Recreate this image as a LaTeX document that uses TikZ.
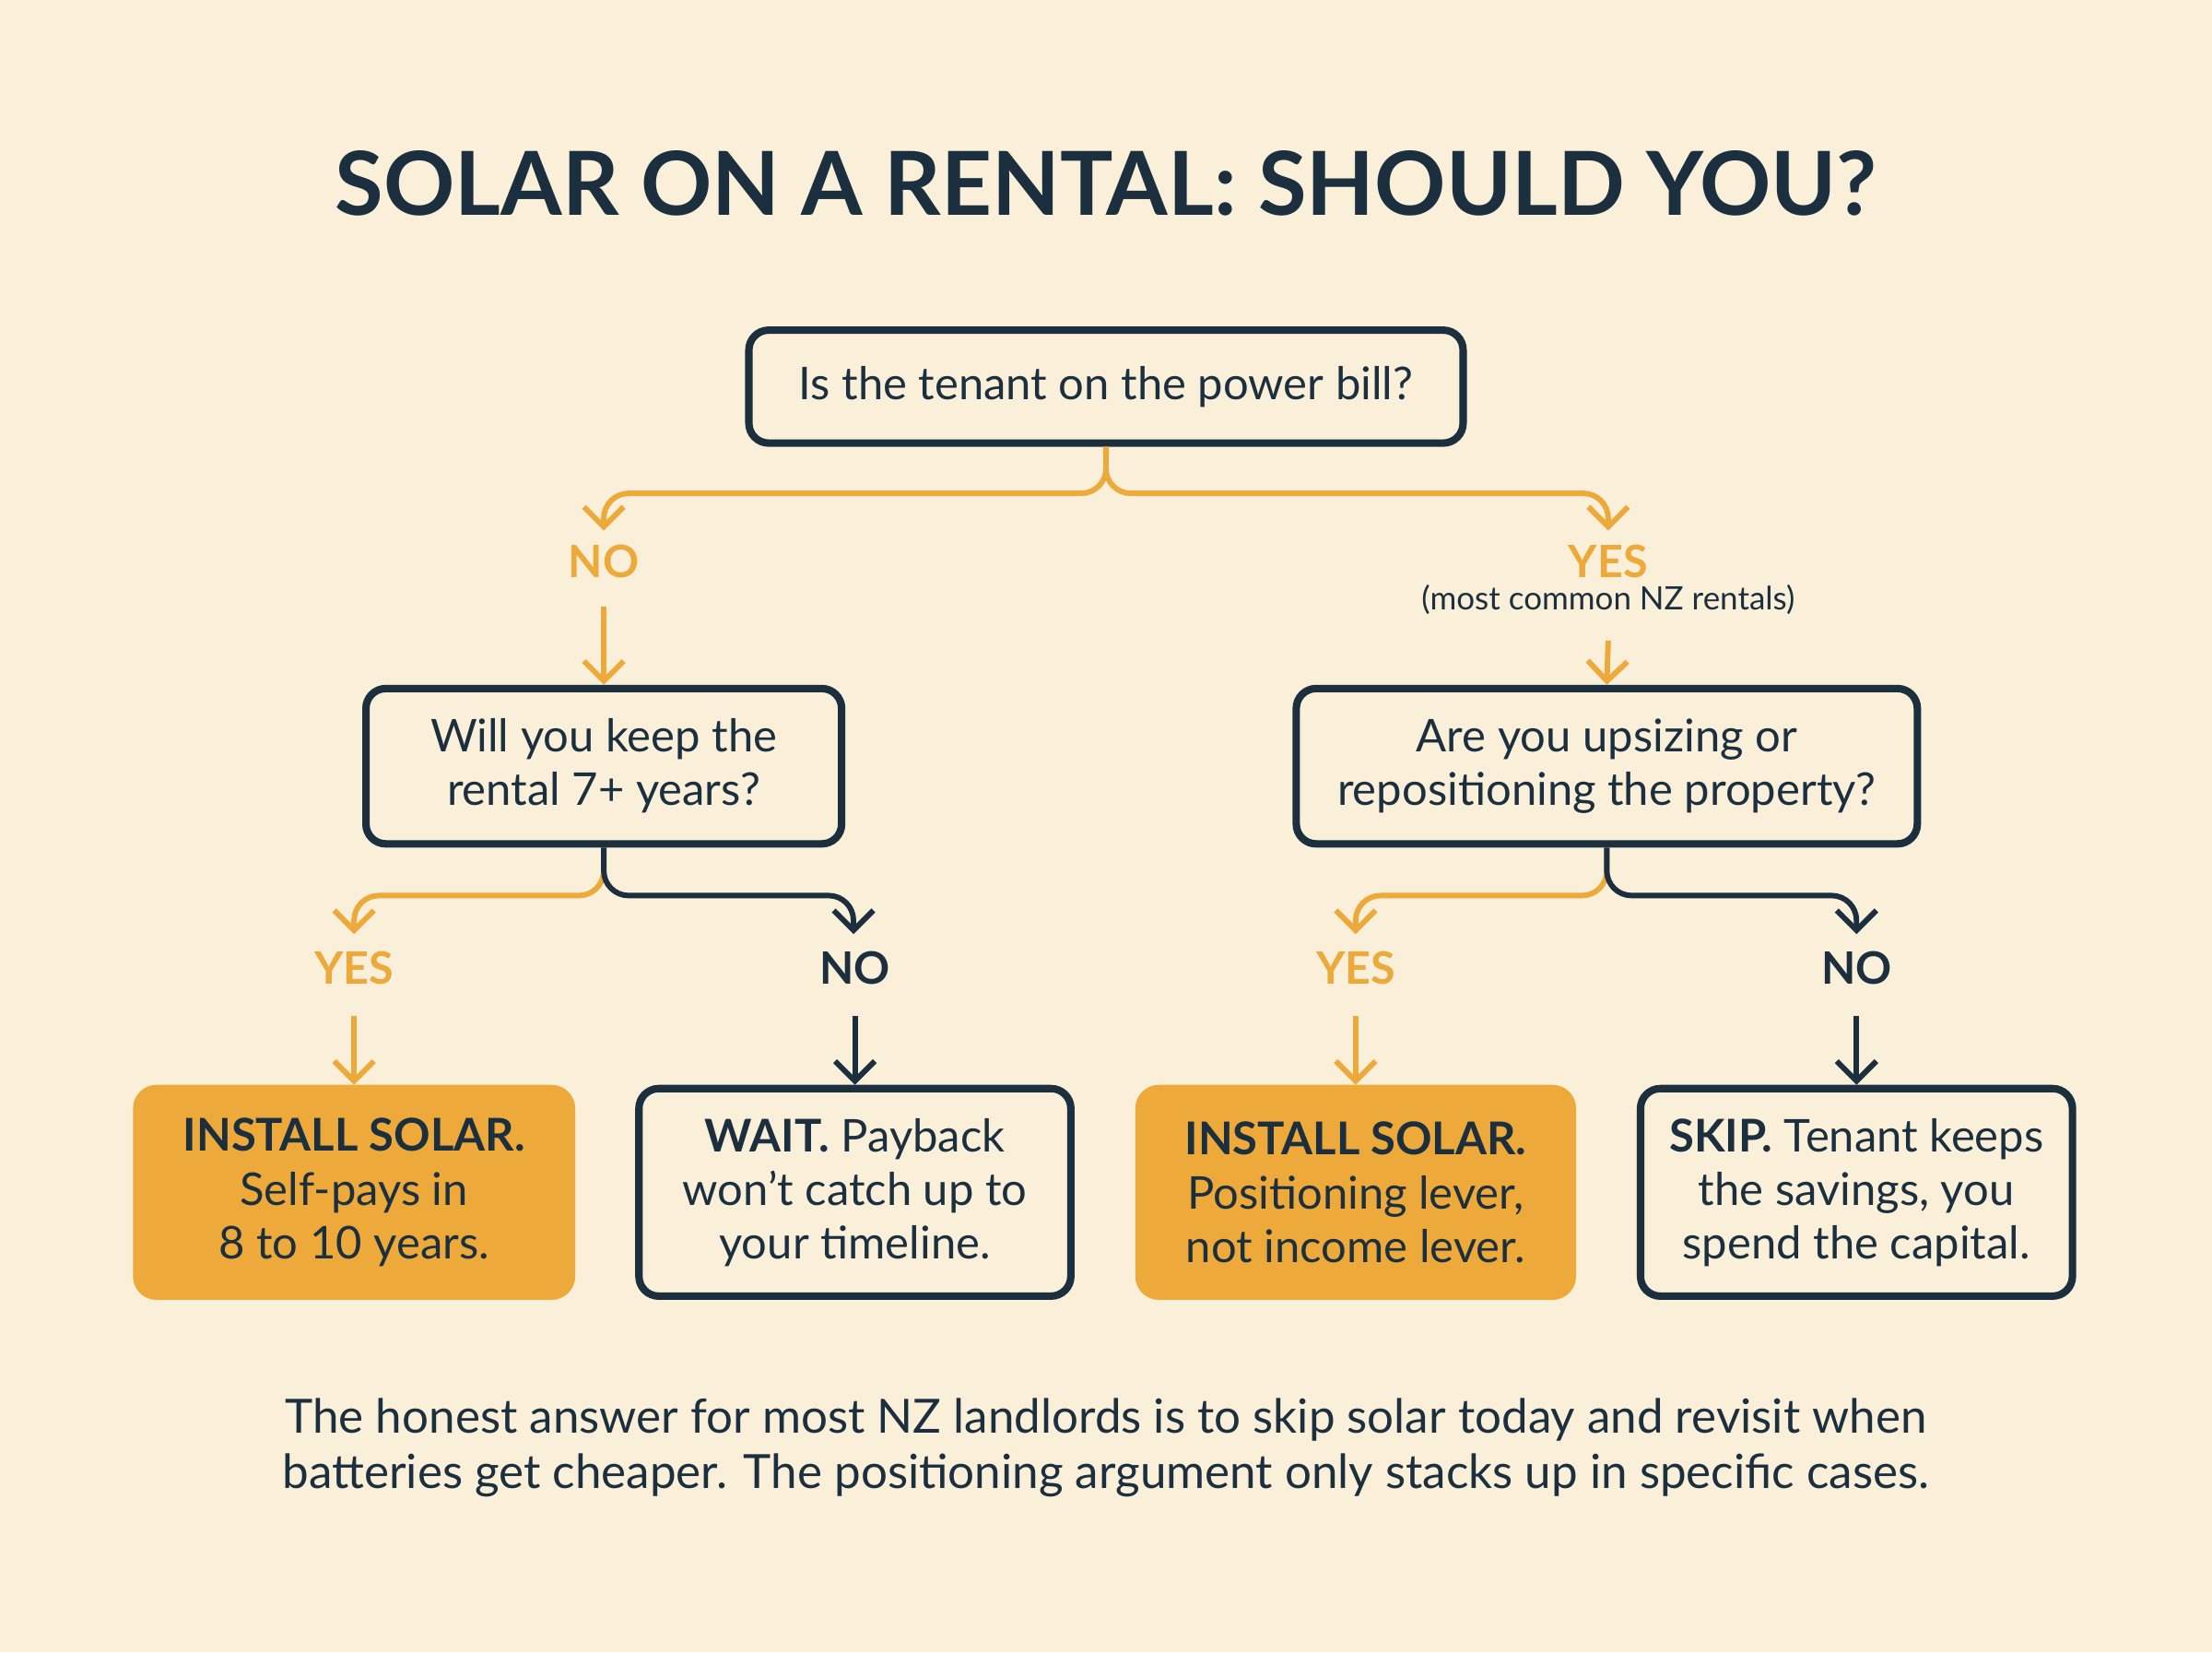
\documentclass[tikz,border=0pt]{standalone}
\usepackage{fontspec}
\setmainfont{Lato}
\usetikzlibrary{positioning,arrows.meta}
\definecolor{navy}{HTML}{1C2F3E}
\definecolor{amber}{HTML}{EDA93A}
\definecolor{cream}{HTML}{FAF0DA}
\tikzset{
	box/.style={draw=navy, line width=1.5pt, rounded corners=4pt, fill=cream, align=center,
		font=\fontsize{9.1}{10.8}\selectfont, text=navy},
	goodbox/.style={box, draw=amber, fill=amber},
	yeslbl/.style={font=\fontsize{9}{10}\selectfont\bfseries, text=amber},
	nolbl/.style={font=\fontsize{9}{10}\selectfont\bfseries, text=navy},
	ylink/.style={draw=amber, line width=1.1pt, -{Straight Barb[length=4pt,width=8pt]}},
	nlink/.style={draw=navy, line width=1.1pt, -{Straight Barb[length=4pt,width=8pt]}},
}
\begin{document}
\begin{tikzpicture}[x=0.01cm,y=-0.01cm]

	% ---------------------
	% Background --- Bounding box
	\fill[cream] (0,0) rectangle (1568,1171);
	\useasboundingbox (0,0) rectangle (1568,1171);

	\node[font=\fontsize{17.8}{20}\selectfont\bfseries, text=navy] (Title) at (784,130) {SOLAR ON A RENTAL: SHOULD YOU?};

	% ---------------------
	% Questions
	\node[box, minimum width=5.06cm, minimum height=0.8cm] (Bill) at (784,274) {Is the tenant on the power bill?};
	\node[box, minimum width=3.37cm, minimum height=1.1cm] (Keep) at (428,543) {Will you keep the\\rental 7+ years?};
	\node[box, minimum width=4.40cm, minimum height=1.1cm] (Upsize) at (1139,543) {Are you upsizing or\\repositioning the property?};

	% ---------------------
	% Answers
	\node[goodbox, minimum width=3.08cm, minimum height=1.47cm] (InstallA) at (251,845) {\textbf{INSTALL SOLAR.}\\Self-pays in\\8 to 10 years.};
	\node[box, minimum width=3.06cm, minimum height=1.47cm] (Wait) at (606,845) {\textbf{WAIT.} Payback\\won't catch up to\\your timeline.};
	\node[goodbox, minimum width=3.07cm, minimum height=1.47cm] (InstallB) at (961,845) {\textbf{INSTALL SOLAR.}\\Positioning lever,\\not income lever.};
	\node[box, minimum width=3.06cm, minimum height=1.47cm] (Skip) at (1316,845) {\textbf{SKIP.} Tenant keeps\\the savings, you\\spend the capital.};

	% ---------------------
	% Branch labels
	\node[yeslbl] (NoA) at (428,398) {NO};
	\node[yeslbl] (YesA) at (1140,398) {YES};
	\node[font=\fontsize{6.5}{7}\selectfont, text=navy] (Common) at (1140,425) {(most common NZ rentals)};
	\node[yeslbl] (YesB) at (251,686) {YES};
	\node[nolbl] (NoB) at (606,686) {NO};
	\node[yeslbl] (YesC) at (961,686) {YES};
	\node[nolbl] (NoC) at (1316,686) {NO};

	\coordinate (TipNoA) at (428,376);
	\coordinate (TipYesA) at (1140,376);
	\coordinate (TipYesB) at (251,662);
	\coordinate (TipNoB) at (605,662);
	\coordinate (TipYesC) at (961,662);
	\coordinate (TipNoC) at (1316,662);

	% ---------------------
	% Connectors
	\draw[ylink, rounded corners=5pt] (Bill.south) -- ++(0,33) -| (TipNoA);
	\draw[ylink, rounded corners=5pt] (Bill.south) -- ++(0,33) -| (TipYesA);
	\draw[ylink, rounded corners=5pt] (Keep.south) -- ++(0,34) -| (TipYesB);
	\draw[nlink, rounded corners=5pt] (Keep.south) -- ++(0,34) -| (TipNoB);
	\draw[ylink, rounded corners=5pt] (Upsize.south) -- ++(0,34) -| (TipYesC);
	\draw[nlink, rounded corners=5pt] (Upsize.south) -- ++(0,34) -| (TipNoC);

	\draw[ylink] (NoA.south) ++(0,8) -- (Keep.north);
	\draw[ylink] (Common.south) ++(0,6) -- (Upsize.north);
	\draw[ylink] (YesB.south) ++(0,10) -- (InstallA.north);
	\draw[nlink] (NoB.south) ++(0,10) -- (Wait.north);
	\draw[ylink] (YesC.south) ++(0,10) -- (InstallB.north);
	\draw[nlink] (NoC.south) ++(0,10) -- (Skip.north);

	% ---------------------
	% Footer
	\node[align=center, font=\fontsize{9.5}{11}\selectfont, text=navy] (Footer) at (784,1026)
		{The honest answer for most NZ landlords is to skip solar today and revisit when\\batteries get cheaper. The positioning argument only stacks up in specific cases.};

\end{tikzpicture}
\end{document}
